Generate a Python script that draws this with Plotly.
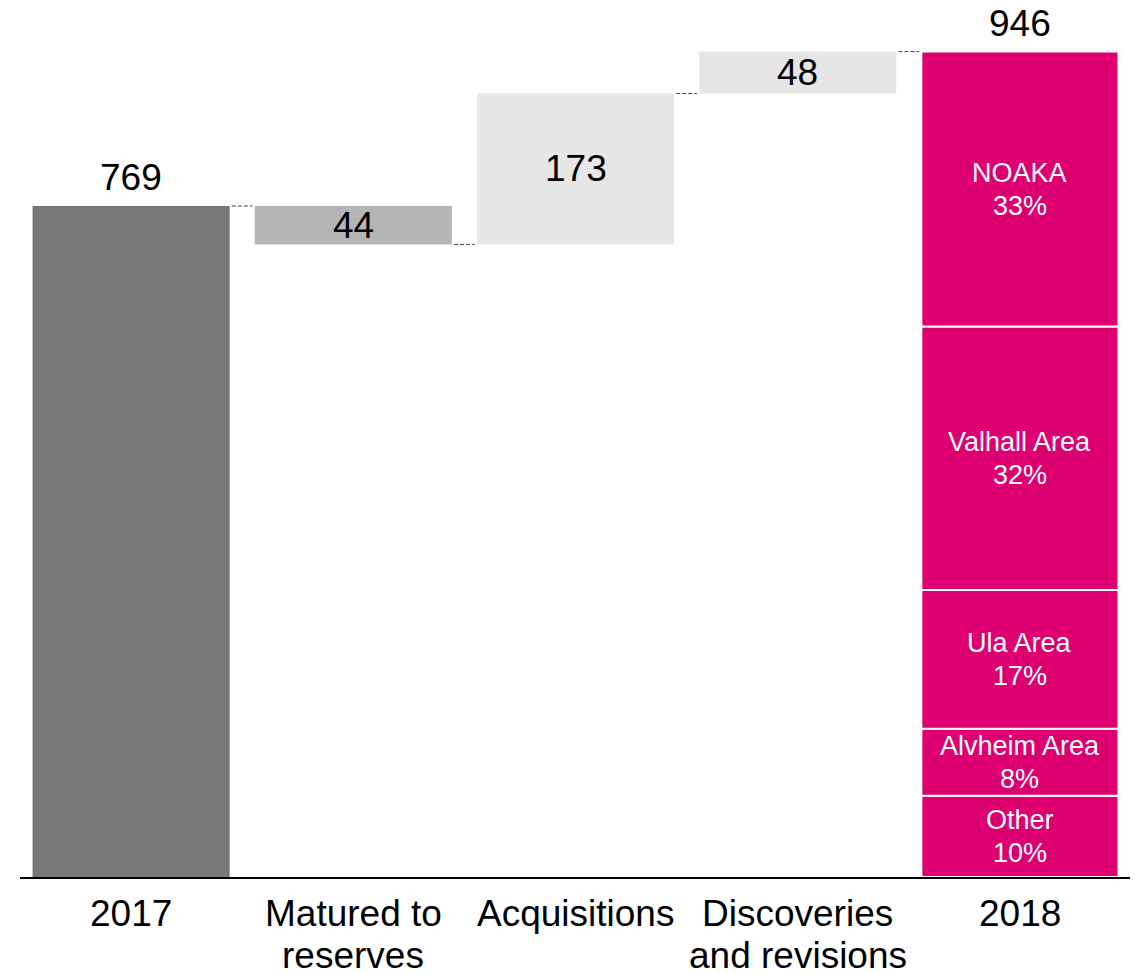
import plotly.graph_objects as go

categories = ["2017", "Matured to<br>reserves", "Acquisitions", "Discoveries<br>and revisions", "2018"]
start_value = 769
changes = [-44, 173, 48]
change_labels = ["44", "173", "48"]
end_value = 946
segment_names = ["Other", "Alvheim Area", "Ula Area", "Valhall Area", "NOAKA"]
segment_values = [93, 77, 159, 302, 315]
segment_pcts = ["10%", "8%", "17%", "32%", "33%"]

colors_change = ["#b5b5b5", "#e6e6e6", "#e6e6e6"]
col_start = "#787878"
col_end = "#de0070"
FONT = "Liberation Sans, Arial, sans-serif"
BW = 0.887

xs = list(range(len(categories)))
fig = go.Figure()

fig.add_trace(go.Bar(x=[xs[0]], y=[start_value], base=[0], width=BW,
                     marker=dict(color=col_start, line=dict(width=0)), hoverinfo="skip"))

levels = [start_value]
bases, heights = [], []
for c in changes:
    prev = levels[-1]
    new = prev + c
    bases.append(min(prev, new))
    heights.append(abs(c))
    levels.append(new)

fig.add_trace(go.Bar(x=xs[1:4], y=heights, base=bases, width=BW,
                     marker=dict(color=colors_change, line=dict(width=0)), hoverinfo="skip"))

cum = 0
seg_mids = []
for name, v in zip(segment_names, segment_values):
    fig.add_trace(go.Bar(x=[xs[4]], y=[v], base=[cum], width=BW,
                         marker=dict(color=col_end, line=dict(color="white", width=2)),
                         hoverinfo="skip"))
    seg_mids.append(cum + v / 2)
    cum += v

annotations = []
annotations.append(dict(x=xs[0], y=start_value, text=str(start_value), showarrow=False,
                        yanchor="bottom", yshift=6, font=dict(size=37, color="black", family=FONT)))
annotations.append(dict(x=xs[4], y=end_value, text=str(end_value), showarrow=False,
                        yanchor="bottom", yshift=6, font=dict(size=37, color="black", family=FONT)))
for i, (b, h, t) in enumerate(zip(bases, heights, change_labels)):
    annotations.append(dict(x=xs[i + 1], y=b + h / 2, text=t, showarrow=False,
                            font=dict(size=37, color="black", family=FONT)))
for name, pct, m in zip(segment_names, segment_pcts, seg_mids):
    for txt, sh in ((name, 16.5), (pct, -16.5)):
        annotations.append(dict(x=xs[4], y=m, text=txt, showarrow=False, yshift=sh,
                                font=dict(size=27, color="white", family=FONT)))

# category labels as annotations (to control line spacing)
for x, cat in zip(xs, categories):
    for j, line in enumerate(cat.split("<br>")):
        annotations.append(dict(x=x, xref="x", y=0, yref="paper", text=line, showarrow=False,
                                yanchor="middle", yshift=-36 - 42 * j,
                                font=dict(size=37, color="black", family=FONT)))

shapes = []
after = [start_value, levels[1], levels[2], levels[3]]
for i in range(4):
    shapes.append(dict(type="line", xref="x", yref="y",
                       x0=xs[i] + BW / 2 + 0.01, x1=xs[i + 1] - BW / 2 - 0.01,
                       y0=after[i], y1=after[i],
                       line=dict(color="#444444", width=1, dash="4px,2px")))

fig.update_layout(
    width=1130, height=965,
    margin=dict(l=12, r=7, t=0, b=96, autoexpand=False),
    paper_bgcolor="white", plot_bgcolor="white",
    barmode="overlay", showlegend=False,
    annotations=annotations, shapes=shapes,
    font=dict(family=FONT, color="black"),
)
fig.update_xaxes(range=[-0.5, 4.5], tickmode="array", tickvals=xs, showticklabels=False,
                 showline=True, linecolor="black", linewidth=2, ticks="", showgrid=False,
                 zeroline=False, automargin=False)
fig.update_yaxes(range=[0, 996], visible=False, showgrid=False, zeroline=False, automargin=False)

fig.write_html("out.html")
